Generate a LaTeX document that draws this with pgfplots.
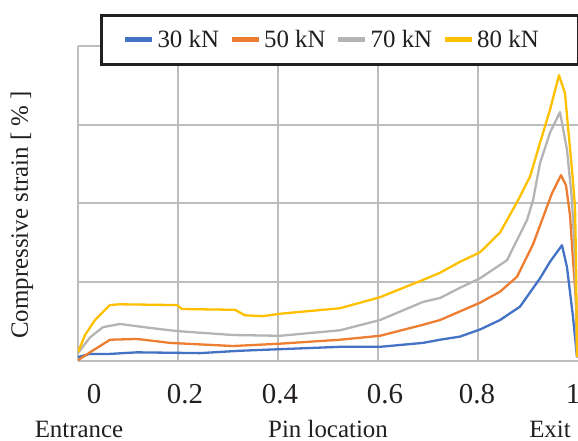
\documentclass[border=0pt]{standalone}
\usepackage{pgfplots}
\pgfplotsset{compat=1.18}
\usepackage{fontspec}
\setmainfont{Liberation Serif}
\definecolor{c30}{HTML}{4472C4}
\definecolor{c50}{HTML}{ED7D31}
\definecolor{c70}{HTML}{B4B4B4}
\definecolor{c80}{HTML}{FFC000}
\definecolor{gridc}{HTML}{BDBDBD}
\definecolor{ink}{HTML}{231F20}

\begin{document}
\begin{tikzpicture}
\begin{axis}[
  name=ax, at={(0,0)}, anchor=south west,
  scale only axis, width=500bp, height=315bp,
  xmin=0, xmax=1, ymin=0, ymax=4,
  axis line style={draw=none},
  xtick={0,0.2,0.4,0.6,0.8}, xticklabels={},
  ytick={0,1,2,3,4}, yticklabels={},
  major tick length=0pt,
  grid=major, grid style={draw=gridc, line width=2bp},
  extra x ticks={0.032,0.214,0.404,0.614,0.798,0.99},
  extra x tick labels={0,0.2,0.4,0.6,0.8,1},
  extra x tick style={grid=none, major tick length=0pt},
  xticklabel style={anchor=base, yshift=-42bp, text=ink, font=\fontsize{29}{30}\selectfont},
  every axis plot/.append style={line width=2.3bp, line join=round},
  legend columns=4,
  legend image code/.code={\draw[line width=5bp] (0bp,0bp) -- (27bp,0bp);},
  legend style={at={(rel axis cs:0.044,1.1016)}, anchor=north west,
    draw=ink, line width=3bp, fill=white, text=ink,
    font=\fontsize{25}{26}\selectfont,
    inner xsep=21bp, inner ysep=12bp,
    nodes={inner xsep=3bp, inner ysep=3bp},
    /tikz/every even column/.append style={column sep=7bp}},
]
% 30 kN
\addplot[c30] coordinates {
(0,0.05)(0.024,0.09)(0.064,0.09)(0.118,0.11)(0.244,0.10)(0.324,0.13)
(0.404,0.15)(0.524,0.18)(0.604,0.18)(0.69,0.23)(0.724,0.27)(0.764,0.31)
(0.804,0.40)(0.844,0.52)(0.884,0.69)(0.924,1.05)(0.944,1.26)(0.968,1.47)
(0.978,1.19)(0.99,0.56)(0.998,0.05)};
\addlegendentry{30 kN}
% 50 kN
\addplot[c50] coordinates {
(0,0.01)(0.024,0.11)(0.064,0.27)(0.118,0.28)(0.184,0.23)(0.31,0.19)
(0.404,0.22)(0.524,0.27)(0.604,0.32)(0.69,0.46)(0.724,0.52)(0.764,0.63)
(0.804,0.74)(0.844,0.88)(0.878,1.07)(0.91,1.48)(0.938,1.96)(0.948,2.13)
(0.966,2.36)(0.976,2.23)(0.984,1.85)(0.99,1.28)(0.996,0.77)(1.0,0.04)};
\addlegendentry{50 kN}
% 70 kN
\addplot[c70] coordinates {
(0,0.10)(0.024,0.30)(0.05,0.43)(0.084,0.47)(0.144,0.42)(0.198,0.38)
(0.31,0.33)(0.404,0.32)(0.524,0.39)(0.604,0.52)(0.69,0.75)(0.724,0.80)
(0.764,0.93)(0.804,1.05)(0.858,1.28)(0.898,1.79)(0.91,2.04)(0.924,2.51)
(0.944,2.90)(0.964,3.16)(0.978,2.68)(0.988,2.04)(0.994,1.28)(0.998,0.04)};
\addlegendentry{70 kN}
% 80 kN
\addplot[c80] coordinates {
(0,0.11)(0.014,0.33)(0.034,0.52)(0.064,0.71)(0.084,0.72)(0.198,0.71)
(0.208,0.66)(0.314,0.65)(0.334,0.58)(0.37,0.57)(0.404,0.60)(0.524,0.67)
(0.604,0.81)(0.69,1.03)(0.724,1.12)(0.764,1.26)(0.804,1.38)(0.844,1.63)
(0.88,2.04)(0.904,2.34)(0.924,2.77)(0.944,3.19)(0.962,3.63)(0.974,3.40)
(0.98,2.97)(0.988,2.43)(0.994,1.96)(0.996,1.28)(0.998,0.05)};
\addlegendentry{80 kN\hspace*{16bp}}
\end{axis}
\node[anchor=base, text=ink, font=\fontsize{25}{26}\selectfont] at (1bp,-76bp) {Entrance};
\node[anchor=base, text=ink, font=\fontsize{25}{26}\selectfont] at (250bp,-76bp) {Pin location};
\node[anchor=base, text=ink, font=\fontsize{25}{26}\selectfont] at (472bp,-76bp) {Exit};
\node[rotate=90, text=ink, font=\fontsize{25}{26}\selectfont] at (-56bp,146bp) {Compressive strain [ \% ]};
\pgfresetboundingbox
\path[use as bounding box] (-78bp,-80bp) rectangle (500bp,361bp);
\end{tikzpicture}
\end{document}
